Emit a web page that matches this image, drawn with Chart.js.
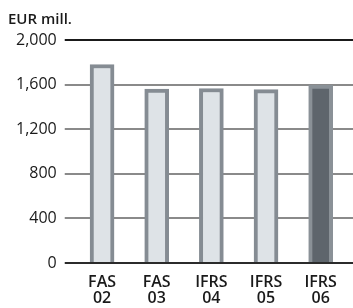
<html>
<head>
<script src="https://cdn.jsdelivr.net/npm/chart.js"></script>
<style>
  body { margin: 0; background: #fff; }
  #wrap { position: relative; width: 353px; height: 308px; }
</style>
</head>
<body>
<div id="wrap"><canvas id="chart"></canvas></div>
<script>
const categories = [['FAS', '02'], ['FAS', '03'], ['IFRS', '04'], ['IFRS', '05'], ['IFRS', '06']];
const values = [1780, 1560, 1565, 1555, 1595];
const yTicks = [0, 400, 800, 1200, 1600, 2000];
const unitLabel = 'EUR mill.';

const fillColors = ['#dee3e7', '#dee3e7', '#dee3e7', '#dee3e7', '#5e656c'];
const edgeColors = ['#858c93', '#858c93', '#858c93', '#858c93', '#8a9197'];

function gridColor(v) {
  if (v === 2000) return '#1a1a1a';
  if (v === 0) return '#2b2b2b';
  return '#8a8a8a';
}

// gridlines run on to the right edge of the picture
const extendGrid = {
  id: 'extendGrid',
  beforeDatasetsDraw(chart) {
    const y = chart.scales.y, ctx = chart.ctx, area = chart.chartArea;
    ctx.save();
    ctx.lineWidth = 2;
    y.ticks.forEach(t => {
      const py = Math.round(y.getPixelForValue(t.value));
      ctx.strokeStyle = gridColor(t.value);
      ctx.beginPath();
      ctx.moveTo(area.right, py);
      ctx.lineTo(chart.width, py);
      ctx.stroke();
    });
    ctx.restore();
  }
};

new Chart(document.getElementById('chart'), {
  type: 'bar',
  data: {
    labels: categories,
    datasets: [{
      data: values,
      backgroundColor: fillColors,
      borderColor: edgeColors,
      borderWidth: 4,
      barThickness: 24
    }]
  },
  options: {
    responsive: true,
    maintainAspectRatio: false,
    animation: false,
    layout: { padding: { left: 8, right: 5, top: 0, bottom: -10 } },
    plugins: {
      legend: { display: false },
      tooltip: { enabled: false },
      title: {
        display: true,
        text: unitLabel,
        align: 'start',
        color: '#1a1a1a',
        font: { family: 'Open Sans', size: 15, weight: '600', lineHeight: 1.2 },
        padding: { top: 11, bottom: 11 }
      }
    },
    scales: {
      x: {
        grid: { display: false, drawTicks: false },
        border: { display: false },
        ticks: {
          color: '#1a1a1a',
          padding: 12,
          maxRotation: 0,
          font: { family: 'Open Sans', size: 16, weight: '600', lineHeight: 0.97 }
        }
      },
      y: {
        min: 0,
        max: 2000,
        afterBuildTicks(scale) { scale.ticks = yTicks.map(v => ({ value: v })); },
        border: { display: false },
        grid: {
          color: c => gridColor(c.tick.value),
          lineWidth: 2,
          tickLength: 10
        },
        ticks: {
          color: '#1a1a1a',
          padding: 8,
          font: { family: 'Open Sans', size: 16, weight: '500' }
        }
      }
    }
  },
  plugins: [extendGrid]
});
</script>
</body>
</html>
